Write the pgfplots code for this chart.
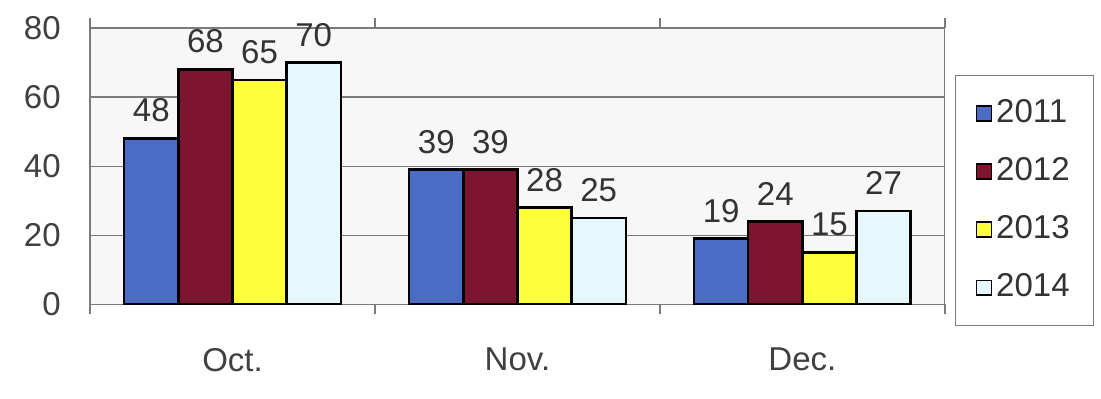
\documentclass[border=0pt]{standalone}
\usepackage{pgfplots}
\pgfplotsset{compat=1.18}
\usepackage{fontspec}
\setmainfont{Liberation Sans}
\definecolor{cA}{HTML}{4A6CC4}
\definecolor{cB}{HTML}{7E1530}
\definecolor{cC}{HTML}{FFFF3C}
\definecolor{cD}{HTML}{E6F8FC}
\definecolor{gridc}{HTML}{7A7A7A}
\begin{document}
\fontsize{16.5}{19}\selectfont
\begin{tikzpicture}
\begin{axis}[
  scale only axis,
  width=427pt, height=138pt,
  ybar=0pt,
  bar width=0.19,
  xmin=-0.5, xmax=2.5,
  ymin=0, ymax=80,
  ytick={0,20,40,60,80},
  xtick={0,1,2},
  xticklabels={Oct.,Nov.,Dec.},
  major x tick style={draw=none},
  minor xtick={-0.5,0.5,1.5,2.5},
  minor x tick style={gridc, thick},
  minor tick length=5pt,
  major y tick style={draw=none},
  ymajorgrids,
  grid style={gridc, line width=0.6pt},
  axis line style={gridc, line width=0.6pt},
  axis background/.style={fill=gray!6},
  tick label style={font=\fontsize{16.5}{19}\selectfont, text=black!75},
  /pgf/number format/assume math mode=true,
  yticklabel style={xshift=-9pt},
  xticklabel style={yshift=-12pt},
  nodes near coords,
  nodes near coords style={font=\fontsize{16.5}{19}\selectfont, text=black!80, yshift=2pt},
  every axis plot/.append style={draw=black, line width=1.2pt},
  legend style={at={(1.012,0.83)}, anchor=north west, draw=gridc, line width=0.6pt,
    font=\fontsize{16.5}{19}\selectfont, text=black!80, row sep=11pt, inner xsep=10pt, inner ysep=10pt, fill=white},
  legend image code/.code={\draw[#1, line width=0.8pt] (0cm,-0.13cm) rectangle (0.26cm,0.13cm);},
  legend cell align=left,
]
\addplot[fill=cA] coordinates {(0,48) (1,39) (2,19)};
\addplot[fill=cB] coordinates {(0,68) (1,39) (2,24)};
\addplot[fill=cC] coordinates {(0,65) (1,28) (2,15)};
\addplot[fill=cD] coordinates {(0,70) (1,25) (2,27)};
\legend{2011,2012,2013,2014}
\end{axis}
\path ([xshift=-45pt,yshift=-47pt]current axis.south west) rectangle ([xshift=78pt,yshift=14pt]current axis.north east);
\end{tikzpicture}
\end{document}
